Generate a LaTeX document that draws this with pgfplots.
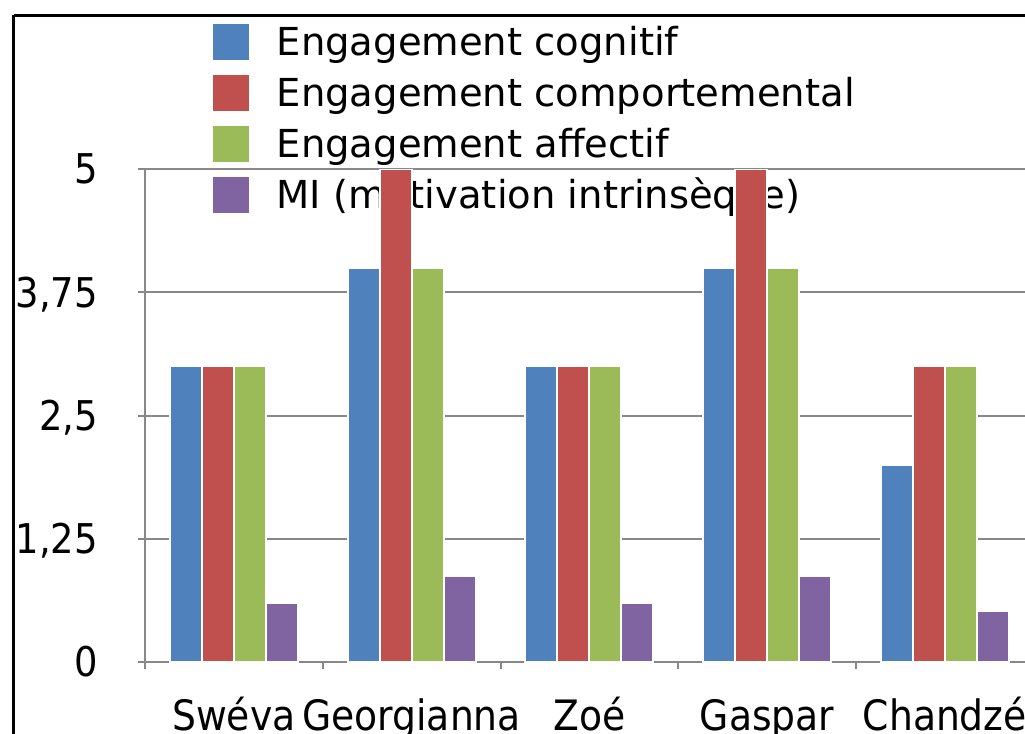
\documentclass[border=0pt]{standalone}
\usepackage{pgfplots}
\pgfplotsset{compat=1.18}
\usepackage{fontspec}
\setmainfont{DejaVu Sans}
\newfontfamily\legfont{DejaVu Sans}
\newfontfamily\condfont{DejaVu Sans Condensed}
\definecolor{cblue}{HTML}{4F81BD}
\definecolor{cred}{HTML}{C0504D}
\definecolor{cgreen}{HTML}{9BBB59}
\definecolor{cpurple}{HTML}{8064A2}
\definecolor{axgray}{HTML}{888888}
\begin{document}
\begin{tikzpicture}
\useasboundingbox (0,0) rectangle (768.75pt,549.75pt);
\clip (0,0) rectangle (768.75pt,549.75pt);
\fill[white] (0,0) rectangle (768.75pt,549.75pt);
\draw[black, line width=2.25pt] (10.125pt,538.125pt) -- (800pt,538.125pt);
\draw[black, line width=2.25pt] (10.125pt,538.125pt) -- (10.125pt,-20pt);
% legend (drawn first, so that the bars lie over it)
\begin{axis}[
  at={(108.75pt,53.25pt)}, anchor=south west,
  scale only axis, width=666.5625pt, height=369.75pt,
  xmin=-0.5, xmax=4.5, ymin=0, ymax=5,
  hide axis,
  legend image code/.code={\draw[#1, line width=0.75pt] (0pt,-13.875pt) rectangle (27.75pt,13.875pt);},
  legend cell align=left,
  legend style={at={(axis description cs:0.0754,1.3093)}, anchor=north west,
    draw=none, fill=none, inner sep=0pt, outer sep=0pt, row sep=0pt, column sep=20pt,
    nodes={inner sep=0pt, text height=29.25pt, text depth=9pt,
      font=\legfont\fontsize{28.9pt}{28.9pt}\selectfont}},
]
\addlegendimage{fill=cblue, draw=white}
\addlegendentry{Engagement cognitif}
\addlegendimage{fill=cred, draw=white}
\addlegendentry{Engagement comportemental}
\addlegendimage{fill=cgreen, draw=white}
\addlegendentry{Engagement affectif}
\addlegendimage{fill=cpurple, draw=white}
\addlegendentry{MI (motivation intrinsèque)}
\end{axis}
\begin{axis}[
  at={(108.75pt,53.25pt)}, anchor=south west,
  scale only axis, width=666.5625pt, height=369.75pt,
  xmin=-0.5, xmax=4.5, ymin=0, ymax=5,
  ybar=0pt, bar width=24pt,
  axis x line*=bottom, axis y line*=left,
  axis line style={draw=axgray, line width=1.5pt, -},
  ytick={0,1.25,2.5,3.75,5},
  yticklabels={0,{1,25},{2,5},{3,75},5},
  xtick={-0.5,0.5,1.5,2.5,3.5,4.5},
  xticklabels={},
  extra x ticks={0,1,2,3,4},
  extra x tick labels={Swéva,Georgianna,Zoé,Gaspar,Chandzé},
  extra x tick style={major tick length=0pt, grid=none},
  tick align=outside, major tick length=5.25pt,
  tick style={draw=axgray, line width=1.5pt},
  ymajorgrids, grid style={draw=axgray, line width=1.5pt},
  yticklabel style={font=\condfont\fontsize{30.75pt}{30.75pt}\selectfont,
    anchor=base east, inner sep=0pt, xshift=-30pt, yshift=-11.2pt},
  xticklabel style={font=\condfont\fontsize{31.4pt}{31.4pt}\selectfont,
    anchor=base, inner sep=0pt, yshift=-51pt},
  every axis plot/.append style={draw=white, line width=1.5pt},
]
\addplot[fill=cblue] coordinates {(0,3) (1,4) (2,3) (3,4) (4,2)};
\addplot[fill=cred] coordinates {(0,3) (1,5) (2,3) (3,5) (4,3)};
\addplot[fill=cgreen] coordinates {(0,3) (1,4) (2,3) (3,4) (4,3)};
\addplot[fill=cpurple] coordinates {(0,0.6) (1,0.87) (2,0.6) (3,0.87) (4,0.52)};
\end{axis}
\end{tikzpicture}
\end{document}
